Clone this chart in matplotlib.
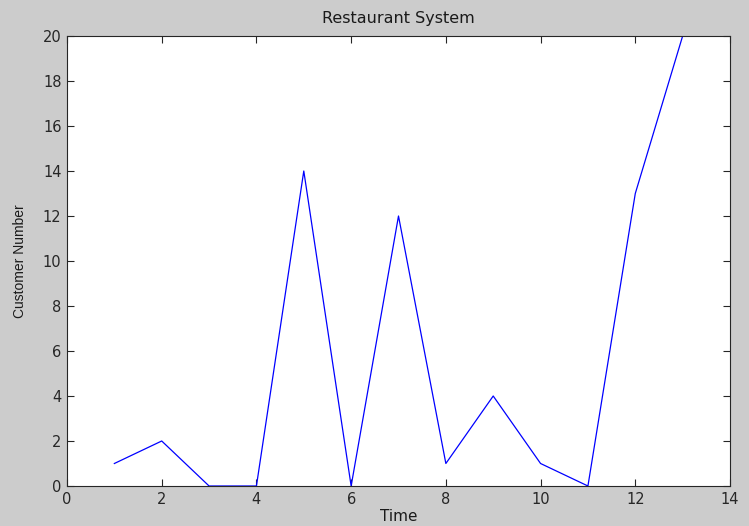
import matplotlib
matplotlib.use("Agg")
import matplotlib.pyplot as plt

time = [1, 2, 3, 4, 5, 6, 7, 8, 9, 10, 11, 12, 13]
customers = [1, 2, 0, 0, 14, 0, 12, 1, 4, 1, 0, 13, 20]
xticks = [0, 2, 4, 6, 8, 10, 12, 14]
yticks = [0, 2, 4, 6, 8, 10, 12, 14, 16, 18, 20]

plt.rcParams['font.family'] = ['DejaVu Sans']
fig = plt.figure(figsize=(7.49, 5.26), dpi=100, facecolor='#cccccc')
ax = fig.add_axes([67/749, 1-486/526, (730-67)/749, (486-36)/526])
ax.plot(time, customers, color='#0000ff', linewidth=0.9)
ax.set_xlim(0, 14)
ax.set_ylim(0, 20)
ax.set_xticks(xticks)
ax.set_yticks(yticks)
ax.tick_params(direction='in', top=True, right=True, length=5, width=0.8,
               labelsize=10.5, pad=4, colors='#262626')
for s in ax.spines.values():
    s.set_linewidth(0.8)
    s.set_color('#262626')
ax.set_title('Restaurant System', fontsize=11.5, pad=9, color='#1a1a1a')
ax.set_xlabel('Time', fontsize=11, labelpad=2, color='#1a1a1a')
ax.set_ylabel('Customer Number', fontsize=10, labelpad=11, color='#1a1a1a',
              family=['Liberation Sans Narrow', 'Liberation Sans', 'DejaVu Sans'])
fig.savefig('out.png', dpi=100, facecolor=fig.get_facecolor())
